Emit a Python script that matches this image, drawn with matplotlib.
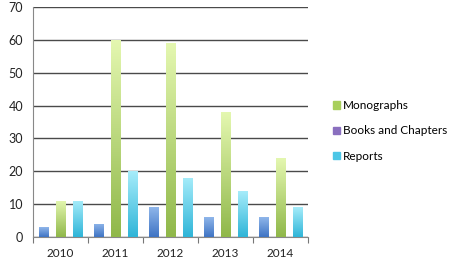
import matplotlib
matplotlib.use("Agg")
import matplotlib.pyplot as plt
import numpy as np
from matplotlib.patches import Patch
from matplotlib.colors import LinearSegmentedColormap

years = ["2010", "2011", "2012", "2013", "2014"]
books = [3, 4, 9, 6, 6]
monographs = [11, 60, 59, 38, 24]
reports = [11, 20, 18, 14, 9]

plt.rcParams['font.family'] = ['Lato', 'DejaVu Sans']

fig = plt.figure(figsize=(4.5, 2.62), dpi=100)
ax = fig.add_axes([33/450, 25/262, 275/450, 230/262])

x = np.arange(len(years))
w = 0.165
off = 0.31

series = [
    (books, -off, ("#8fb6ea", "#3f74c4")),
    (monographs, 0, ("#e4f7b0", "#90b84a")),
    (reports, off, ("#a6ecfa", "#2fb5d8")),
]

for vals, o, (ctop, cbot) in series:
    bars = ax.bar(x + o, vals, width=w, color=cbot, zorder=3, linewidth=0)
    cmap = LinearSegmentedColormap.from_list("g", [cbot, ctop])
    grad = np.linspace(0, 1, 100).reshape(-1, 1)
    for b in bars:
        x0, y0 = b.get_x(), b.get_y()
        bw, bh = b.get_width(), b.get_height()
        im = ax.imshow(grad, cmap=cmap, origin="lower", aspect="auto",
                       extent=(x0, x0 + bw, y0, y0 + bh), zorder=4)
        im.set_clip_path(b)

ax.set_xlim(-0.5, 4.5)
ax.set_ylim(0, 70)
ax.set_yticks(range(0, 71, 10))
ax.yaxis.grid(True, color="#4a4a4a", linewidth=1.0, zorder=0)
ax.set_axisbelow(True)

ax.set_xticks(x)
ax.set_xticklabels(years)
ax.set_xticks(np.arange(-0.5, 5.0, 1.0), minor=True)
ax.tick_params(axis="x", which="major", length=0, pad=8, labelsize=8.5, colors="#222222")
ax.tick_params(axis="x", which="minor", length=4, color="#777777", width=0.8)
ax.tick_params(axis="y", length=0, pad=7, labelsize=9, colors="#222222")

for s in ["top", "right"]:
    ax.spines[s].set_visible(False)
ax.spines["left"].set_color("#888888")
ax.spines["bottom"].set_color("#888888")

handles = [
    Patch(color="#a8cf5c", label="Monographs"),
    Patch(color="#8a6fbf", label="Books and Chapters"),
    Patch(color="#4cc6e6", label="Reports"),
]
fig.legend(handles=handles, loc="center left", bbox_to_anchor=(328/450, 1 - 131/262),
           frameon=False, fontsize=8.5, handlelength=0.6, handleheight=0.6,
           handletextpad=0.25, labelspacing=1.2, borderaxespad=0)

fig.savefig("out.png", dpi=100)
